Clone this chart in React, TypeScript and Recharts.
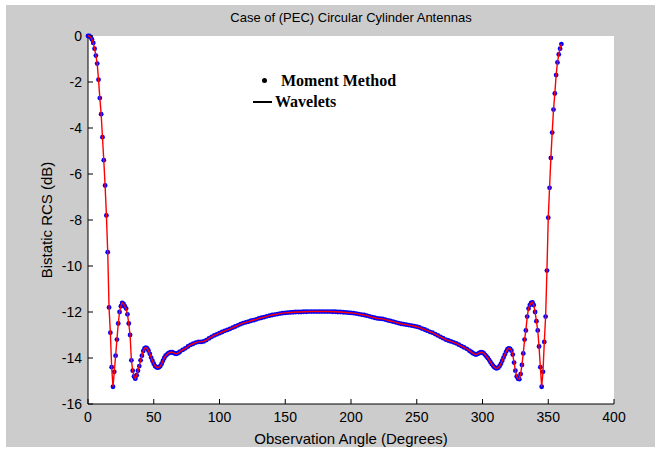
import { CartesianGrid, ComposedChart, Legend, Line, Scatter, XAxis, YAxis } from "recharts";

const xTicks = [0, 50, 100, 150, 200, 250, 300, 350, 400];
const yTicks = [0, -2, -4, -6, -8, -10, -12, -14, -16];

// bistatic RCS in dB, 0..70 deg every 1 deg
const leftRcs = [
  0, 0, -0.05, -0.15, -0.3, -0.55, -0.85, -1.2, -1.9, -2.7,
  -3.4, -4.4, -5.4, -6.5, -7.8, -9.4, -11.8, -12.9, -14.4, -15.25,
  -14.6, -13.9, -13.2, -12.5, -12.0, -11.75, -11.6, -11.65, -11.75, -11.85,
  -12.1, -12.5, -13.0, -14.1, -14.55, -14.8, -14.9, -14.75, -14.55, -14.35,
  -14.1, -13.9, -13.7, -13.58, -13.55, -13.58, -13.68, -13.82, -13.98, -14.12,
  -14.25, -14.35, -14.4, -14.42, -14.4, -14.35, -14.25, -14.12, -14.0, -13.9,
  -13.85, -13.8, -13.77, -13.75, -13.75, -13.78, -13.8, -13.82, -13.8, -13.77,
  -13.72,
];

// 72..290 deg every 2 deg
const middleRcs = [
  -13.65, -13.58, -13.5, -13.43, -13.38, -13.33, -13.3, -13.3, -13.28, -13.22,
  -13.15, -13.08, -13.02, -12.97, -12.92, -12.87, -12.82, -12.78, -12.73, -12.68,
  -12.63, -12.58, -12.53, -12.48, -12.45, -12.42, -12.38, -12.35, -12.32, -12.28,
  -12.25, -12.22, -12.19, -12.16, -12.13, -12.11, -12.09, -12.07, -12.05, -12.04,
  -12.03, -12.02, -12.01, -12.0, -12.0, -12.0, -11.99, -11.99, -11.98, -11.98,
  -11.98, -11.98, -11.98, -11.98, -11.98, -11.98, -11.98, -11.99, -11.99, -12.0,
  -12.0, -12.01, -12.02, -12.03, -12.04, -12.05, -12.07, -12.09, -12.11, -12.13,
  -12.16, -12.19, -12.22, -12.25, -12.28, -12.29, -12.3, -12.33, -12.36, -12.39,
  -12.42, -12.45, -12.48, -12.51, -12.53, -12.55, -12.57, -12.59, -12.61, -12.64,
  -12.67, -12.72, -12.76, -12.81, -12.86, -12.9, -12.96, -13.02, -13.08, -13.14,
  -13.2, -13.24, -13.28, -13.32, -13.36, -13.42, -13.48, -13.54, -13.6, -13.68,
];

// 291..360 deg every 1 deg
const rightRcs = [
  -13.72, -13.76, -13.8, -13.83, -13.85, -13.83, -13.8, -13.77, -13.75, -13.76,
  -13.8, -13.86, -13.93, -14.0, -14.08, -14.17, -14.26, -14.33, -14.4, -14.44,
  -14.45, -14.42, -14.35, -14.25, -14.12, -13.98, -13.85, -13.72, -13.62, -13.58,
  -13.6, -13.68, -13.85, -14.2, -14.55, -14.8, -14.9, -14.92, -14.7, -14.3,
  -13.8, -13.2, -12.8, -12.2, -11.85, -11.7, -11.6, -11.58, -11.7, -12.0,
  -12.4, -12.8, -13.5, -14.4, -15.25, -14.6, -13.3, -12.2, -10.2, -7.9,
  -6.6, -5.3, -4.2, -3.2, -2.5, -1.7, -1.15, -0.8, -0.55, -0.35,
];

const angles = [
  ...leftRcs.map((_, i) => i),
  ...middleRcs.map((_, i) => 72 + 2 * i),
  ...rightRcs.map((_, i) => 291 + i),
];
const rcs = [...leftRcs, ...middleRcs, ...rightRcs];

const data = angles.map((angle, i) => ({
  angle,
  moment: rcs[i],
  wavelet: rcs[i],
}));

const FONT = '"Liberation Sans", Arial, sans-serif';
const SERIF = '"Liberation Serif", "Times New Roman", serif';
const WIDTH = 660;
const HEIGHT = 450;
const MARGIN = { top: 36, right: 46, bottom: 0, left: 0 };
// same plot box, but with the axis room moved into the margin (hidden axes take no space)
const OVERLAY_MARGIN = { top: 36, right: 46, bottom: 46, left: 88 };

function BottomTick({ x, y, payload }: any) {
  return (
    <g>
      <line x1={x} x2={x} y1={y - 5} y2={y - 10} stroke="#000" />
      <text x={x} y={y} dy="0.9em" textAnchor="middle" fontSize={14} fontFamily={FONT} fill="#000">
        {payload.value}
      </text>
    </g>
  );
}

function LeftTick({ x, y, payload }: any) {
  return (
    <g>
      <line x1={x + 6} x2={x + 11} y1={y} y2={y} stroke="#000" />
      <text x={x} y={y} dy="0.36em" textAnchor="end" fontSize={14} fontFamily={FONT} fill="#000">
        {payload.value}
      </text>
    </g>
  );
}

function TopTick({ x, y }: any) {
  return <line x1={x} x2={x} y1={y} y2={y + 5} stroke="#000" />;
}

function RightTick({ x, y }: any) {
  return <line x1={x} x2={x - 5} y1={y} y2={y} stroke="#000" />;
}

function MomentDot({ cx, cy }: any) {
  return <circle cx={cx} cy={cy} r={2.4} fill="#0000ff" />;
}

function LegendBox() {
  return (
    <div style={{ fontFamily: SERIF, fontWeight: "bold", fontSize: 16, color: "#000", lineHeight: "21px" }}>
      <div style={{ display: "flex", alignItems: "center" }}>
        <span style={{ display: "inline-block", width: 5, height: 5, borderRadius: 3, background: "#000", marginLeft: 12, marginRight: 14 }} />
        Moment Method
      </div>
      <div style={{ display: "flex", alignItems: "center" }}>
        <span style={{ display: "inline-block", width: 19, height: 2, background: "#000", marginLeft: 3, marginRight: 3 }} />
        Wavelets
      </div>
    </div>
  );
}

// the wavelet curve sits in its own transparent chart, stacked over the dots
function WaveletOverlay() {
  return (
    <ComposedChart width={WIDTH} height={HEIGHT} data={data} margin={OVERLAY_MARGIN}>
      <XAxis dataKey="angle" type="number" domain={[0, 400]} ticks={xTicks} hide />
      <YAxis type="number" domain={[-16, 0]} ticks={yTicks} hide />
      <Line
        dataKey="wavelet"
        name="Wavelets"
        type="linear"
        stroke="#ff0000"
        strokeWidth={1.4}
        dot={false}
        activeDot={false}
        isAnimationActive={false}
      />
    </ComposedChart>
  );
}

export default function App() {
  return (
    <div style={{ position: "absolute", left: 0, top: 0, width: WIDTH, height: HEIGHT, background: "#fff" }}>
      <div style={{ position: "absolute", left: 6, top: 5, width: 649, height: 442, background: "#cccccc" }} />
      <div
        style={{
          position: "absolute",
          left: 88,
          width: 526,
          top: 10,
          textAlign: "center",
          fontFamily: FONT,
          fontSize: 13,
          color: "#000",
        }}
      >
        Case of (PEC) Circular Cylinder Antennas
      </div>
      <div style={{ position: "absolute", left: 0, top: 0 }}>
        <ComposedChart width={WIDTH} height={HEIGHT} data={data} margin={MARGIN}>
          <CartesianGrid fill="#fff" horizontal={false} vertical={false} />
          <XAxis
            dataKey="angle"
            type="number"
            domain={[0, 400]}
            ticks={xTicks}
            interval={0}
            height={46}
            tickSize={0}
            tickMargin={5}
            tickLine={false}
            axisLine={{ stroke: "#000" }}
            tick={<BottomTick />}
            label={{ value: "Observation Angle (Degrees)", position: "insideBottom", offset: 6, fontSize: 15, fontFamily: FONT, fill: "#000" }}
          />
          <XAxis
            xAxisId="top"
            orientation="top"
            type="number"
            domain={[0, 400]}
            ticks={xTicks}
            interval={0}
            height={0}
            tickSize={0}
            tickMargin={0}
            tickLine={false}
            axisLine={{ stroke: "#000" }}
            tick={<TopTick />}
          />
          <YAxis
            type="number"
            domain={[-16, 0]}
            ticks={yTicks}
            interval={0}
            width={88}
            tickSize={0}
            tickMargin={6}
            tickLine={false}
            axisLine={{ stroke: "#000" }}
            tick={<LeftTick />}
            label={{ value: "Bistatic RCS (dB)", angle: -90, position: "insideLeft", offset: 47, fontSize: 15, fontFamily: FONT, fill: "#000", style: { textAnchor: "middle" } }}
          />
          <YAxis
            yAxisId="right"
            orientation="right"
            type="number"
            domain={[-16, 0]}
            ticks={yTicks}
            interval={0}
            width={0}
            tickSize={0}
            tickMargin={0}
            tickLine={false}
            axisLine={{ stroke: "#000" }}
            tick={<RightTick />}
          />
          <Legend
            layout="vertical"
            verticalAlign="middle"
            align="center"
            wrapperStyle={{ left: 250, top: 70, width: 200 }}
            content={() => <LegendBox />}
          />
          <Scatter
            dataKey="moment"
            name="Moment Method"
            shape={<MomentDot />}
            isAnimationActive={false}
          />
        </ComposedChart>
      </div>
      <div style={{ position: "absolute", left: 0, top: 0, pointerEvents: "none" }}>
        <WaveletOverlay />
      </div>
    </div>
  );
}
